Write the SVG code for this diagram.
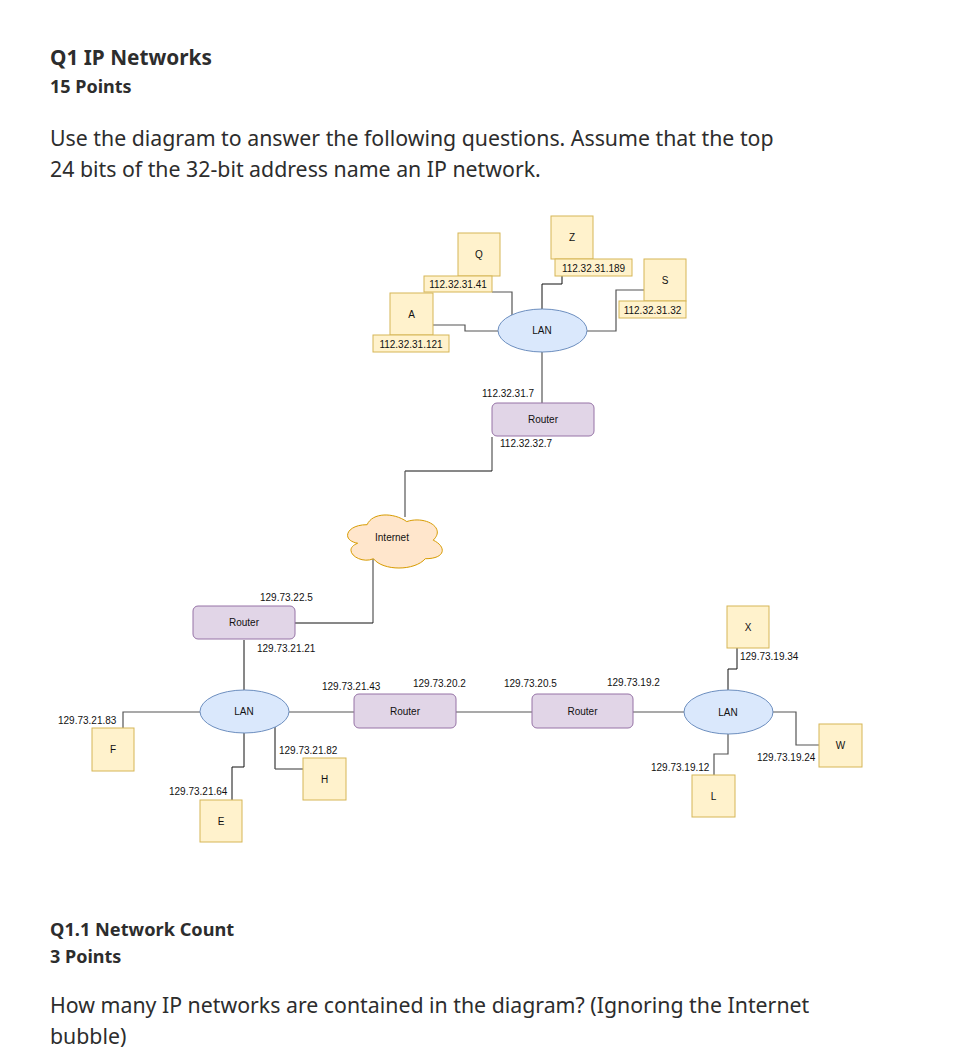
<svg xmlns="http://www.w3.org/2000/svg" width="968" height="1061" viewBox="0 0 968 1061">
<style>
.h{font-family:"Noto Sans","Open Sans","Liberation Sans",sans-serif;fill:#2d2d2d}
.hb{font-weight:700}
.t{font-family:"Liberation Sans",Arial,sans-serif;font-size:10px;fill:#111}
.n{font-family:"Liberation Sans",Arial,sans-serif;font-size:10px;fill:#111;text-anchor:middle}
.host{fill:#fff2cc;stroke:#d6b656;stroke-width:1}
.rt{fill:#e1d5e7;stroke:#9673a6;stroke-width:1}
.lan{fill:#dae8fc;stroke:#6c8ebf;stroke-width:1}
.cl{fill:#ffe6cc;stroke:#d79b00;stroke-width:1}
.c{fill:none;stroke:#555;stroke-width:1.2}
.d{fill:none;stroke:#111;stroke-width:1}
</style>
<rect width="968" height="1061" fill="#fff"/>

<g id="header">
<text class="h hb" x="50" y="65" font-size="20.8">Q1 IP Networks</text>
<text class="h hb" x="50" y="93" font-size="18">15 Points</text>
<text class="h" x="50" y="146" font-size="21.3">Use the diagram to answer the following questions. Assume that the top</text>
<text class="h" x="50" y="177" font-size="21.3">24 bits of the 32-bit address name an IP network.</text>
</g>

<g id="connectors">
<path class="c" d="M492,292 H512 V316"/>
<path class="c" d="M433,325 H465 V331 H498"/>
<path class="d" d="M542,309 V284 H562 V276"/>
<path class="c" d="M587,331 H616 V290 H644"/>
<path class="c" d="M542,352 V403"/>
<path class="c" d="M492,437 V471"/>
<path class="d" d="M492,471 H405"/>
<path class="c" d="M405,471 V517"/>
<path class="c" d="M373,558 V623"/>
<path class="d" d="M373,623 H295"/>
<path class="d" d="M244,640 V690"/>
<path class="c" d="M200,712 H123 V728"/>
<path class="d" d="M244,733 V767 H232 V800"/>
<path class="d" d="M275,727 V769"/>
<path class="c" d="M275,769 H303"/>
<path class="c" d="M289,712 H354"/>
<path class="c" d="M456,712 H532"/>
<path class="c" d="M633,712 H684"/>
<path class="d" d="M728,690 V669 H737 V648"/>
<path class="c" d="M773,712 H796 V745 H819"/>
<path class="c" d="M728,734 V754 H714 V775"/>
</g>

<g id="node-Q">
<rect class="host" x="458" y="233" width="42" height="43"/>
<text class="n" x="479" y="258">Q</text>
<rect class="host" x="424" y="276" width="68" height="16"/>
<text class="t" x="458" y="288" text-anchor="middle">112.32.31.41</text>
</g>
<g id="node-A">
<rect class="host" x="390" y="293" width="43" height="42"/>
<text class="n" x="411.5" y="318">A</text>
<rect class="host" x="373" y="335" width="76" height="17"/>
<text class="t" x="411" y="347.5" text-anchor="middle">112.32.31.121</text>
</g>
<g id="node-Z">
<rect class="host" x="551" y="216" width="42" height="43"/>
<text class="n" x="572" y="241">Z</text>
<rect class="host" x="555" y="259" width="77" height="17"/>
<text class="t" x="593.5" y="271.5" text-anchor="middle">112.32.31.189</text>
</g>
<g id="node-S">
<rect class="host" x="644" y="259" width="42" height="42"/>
<text class="n" x="665" y="284">S</text>
<rect class="host" x="619" y="301" width="67" height="17"/>
<text class="t" x="652.5" y="313.5" text-anchor="middle">112.32.31.32</text>
</g>
<g id="lan-top">
<ellipse class="lan" cx="542.5" cy="330.5" rx="44.5" ry="21.5"/>
<text class="n" x="542" y="334">LAN</text>
</g>
<g id="router-top">
<rect class="rt" x="492" y="403" width="102" height="33" rx="5"/>
<text class="n" x="543" y="423">Router</text>
<text class="t" x="482" y="397">112.32.31.7</text>
<text class="t" x="500" y="447">112.32.32.7</text>
</g>
<g id="internet">
<path class="cl" vector-effect="non-scaling-stroke" transform="translate(340.7 509.2) scale(105.7 61.9)" d="M0.25,0.25 C0.05,0.25 0,0.5 0.16,0.55 C0,0.66 0.18,0.9 0.31,0.8 C0.4,1 0.7,1 0.8,0.8 C1,0.8 1,0.6 0.875,0.5 C1,0.3 0.8,0.1 0.625,0.2 C0.5,0.05 0.3,0.05 0.25,0.25 Z"/>
<text class="n" x="392" y="541">Internet</text>
</g>
<g id="router-left">
<rect class="rt" x="193" y="606" width="102" height="33" rx="5"/>
<text class="n" x="244" y="626">Router</text>
<text class="t" x="260" y="601">129.73.22.5</text>
<text class="t" x="257" y="652">129.73.21.21</text>
</g>
<g id="lan-left">
<ellipse class="lan" cx="244.5" cy="711.5" rx="44.5" ry="21.5"/>
<text class="n" x="244" y="715">LAN</text>
</g>
<g id="node-F">
<rect class="host" x="92" y="728" width="42" height="43"/>
<text class="n" x="113" y="753">F</text>
<text class="t" x="58" y="723.5">129.73.21.83</text>
</g>
<g id="node-E">
<rect class="host" x="200" y="800" width="42" height="42"/>
<text class="n" x="221" y="825">E</text>
<text class="t" x="169" y="795">129.73.21.64</text>
</g>
<g id="node-H">
<rect class="host" x="303" y="758" width="43" height="42"/>
<text class="n" x="324.5" y="783">H</text>
<text class="t" x="279" y="753.5">129.73.21.82</text>
</g>
<g id="router-mid1">
<rect class="rt" x="354" y="694" width="102" height="34" rx="5"/>
<text class="n" x="405" y="715">Router</text>
<text class="t" x="322" y="690">129.73.21.43</text>
<text class="t" x="413" y="686.5">129.73.20.2</text>
</g>
<g id="router-mid2">
<rect class="rt" x="532" y="694" width="101" height="34" rx="5"/>
<text class="n" x="582.5" y="715">Router</text>
<text class="t" x="504" y="686.5">129.73.20.5</text>
<text class="t" x="607" y="686">129.73.19.2</text>
</g>
<g id="lan-right">
<ellipse class="lan" cx="728.5" cy="712" rx="44.5" ry="22"/>
<text class="n" x="728" y="715.5">LAN</text>
</g>
<g id="node-X">
<rect class="host" x="727" y="606" width="42" height="42"/>
<text class="n" x="748" y="631">X</text>
<text class="t" x="740" y="660">129.73.19.34</text>
</g>
<g id="node-W">
<rect class="host" x="819" y="724" width="43" height="43"/>
<text class="n" x="840.5" y="749">W</text>
<text class="t" x="757" y="761">129.73.19.24</text>
</g>
<g id="node-L">
<rect class="host" x="692" y="775" width="43" height="42"/>
<text class="n" x="713.5" y="800">L</text>
<text class="t" x="651" y="770.5">129.73.19.12</text>
</g>

<g id="footer">
<text class="h hb" x="50" y="936" font-size="18.2">Q1.1 Network Count</text>
<text class="h hb" x="50" y="963" font-size="18">3 Points</text>
<text class="h" x="50" y="1013" font-size="21.3">How many IP networks are contained in the diagram? (Ignoring the Internet</text>
<text class="h" x="50" y="1044" font-size="21.3">bubble)</text>
</g>
</svg>
